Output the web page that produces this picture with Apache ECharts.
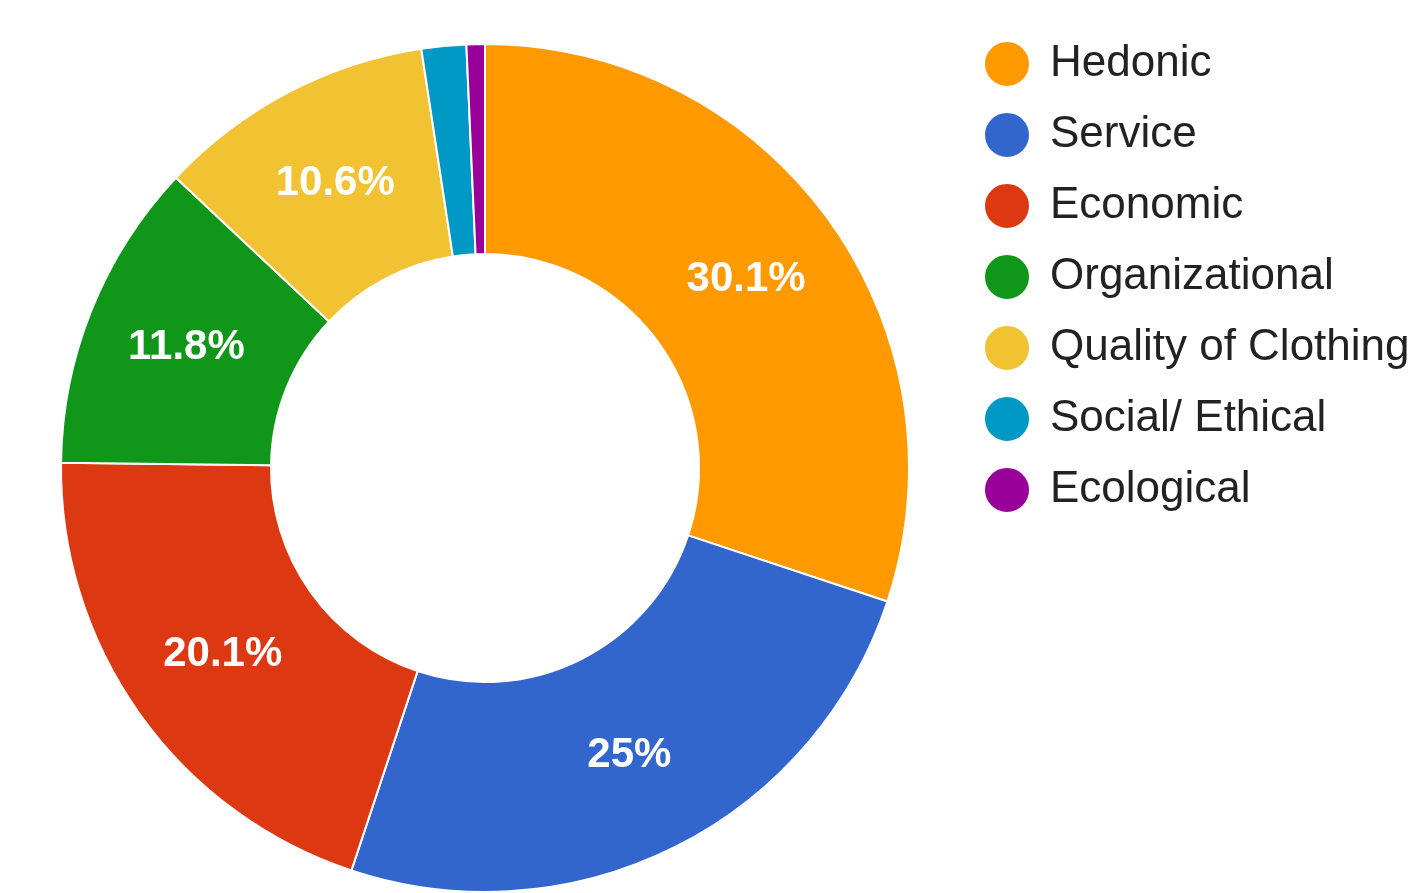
<!DOCTYPE html>
<html>
<head>
<meta charset="utf-8">
<script src="https://cdn.jsdelivr.net/npm/echarts@6/dist/echarts.min.js"></script>
<style>
html,body{margin:0;padding:0;background:#fff;}
#chart{width:1421px;height:893px;}
</style>
</head>
<body>
<div id="chart"></div>
<script>
const categories = ["Hedonic", "Service", "Economic", "Organizational", "Quality of Clothing", "Social/ Ethical", "Ecological"];
const values = [30.1, 25, 20.1, 11.8, 10.6, 1.7, 0.7];
const colors = ["#ff9900", "#3366cc", "#dc3912", "#109618", "#f1c232", "#0099c6", "#990099"];

const chart = echarts.init(document.getElementById('chart'));
chart.setOption({
  animation: false,
  backgroundColor: '#ffffff',
  color: colors,
  legend: {
    orient: 'vertical',
    left: 978,
    top: 35,
    icon: 'circle',
    itemWidth: 46,
    itemHeight: 46,
    itemGap: 23,
    textStyle: {
      fontFamily: 'Liberation Sans',
      fontSize: 44,
      color: '#222222',
      lineHeight: 46,
      padding: [0, 0, 0, 15]
    },
    data: categories
  },
  series: [{
    type: 'pie',
    center: [485, 468],
    radius: [214, 424],
    startAngle: 90,
    clockwise: true,
    avoidLabelOverlap: false,
    itemStyle: { borderColor: '#ffffff', borderWidth: 2 },
    label: {
      show: true,
      position: 'inside',
      color: '#ffffff',
      fontFamily: 'Liberation Sans',
      fontWeight: 'bold',
      fontSize: 42,
      formatter: function (p) {
        if (p.value < 5) return '';
        return p.value + '%';
      }
    },
    labelLine: { show: false },
    data: categories.map((c, i) => ({ name: c, value: values[i] }))
  }]
});
</script>
</body>
</html>
